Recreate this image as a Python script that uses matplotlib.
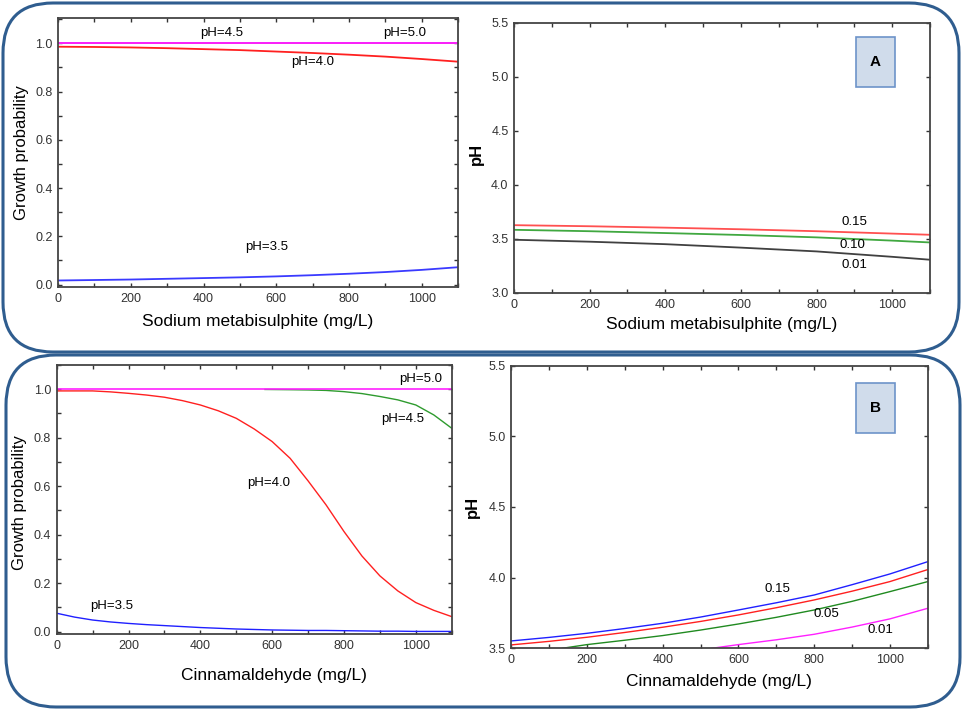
import matplotlib
matplotlib.use('Agg')
import matplotlib.pyplot as plt
from matplotlib.patches import FancyBboxPatch, Rectangle
from matplotlib.ticker import MultipleLocator
from matplotlib.transforms import IdentityTransform

plt.rcParams['font.family'] = ['Liberation Sans', 'DejaVu Sans']

# Colours
frame_blue = '#2F5D8F'
box_fill = '#D0DCEB'
box_edge = '#6D93C9'
tick_grey = '#333333'

# --- A: sodium metabisulphite, growth probability vs concentration
x_smb = [0, 100, 200, 300, 400, 500, 600, 700, 800, 900, 1000, 1100]
p_smb_50 = [1.0] * 12
p_smb_45 = [1.0] * 12
p_smb_40 = [0.986, 0.985, 0.983, 0.980, 0.976, 0.972, 0.966, 0.960, 0.953, 0.945, 0.935, 0.924]
p_smb_35 = [0.017, 0.019, 0.021, 0.024, 0.027, 0.030, 0.034, 0.039, 0.045, 0.052, 0.061, 0.072]

# --- A: pH boundaries for given probability levels
x_smb_c = [0, 200, 400, 600, 800, 1000, 1100]
ph_smb_015 = [3.628, 3.618, 3.605, 3.590, 3.572, 3.550, 3.539]
ph_smb_010 = [3.585, 3.572, 3.555, 3.537, 3.515, 3.485, 3.468]
ph_smb_001 = [3.493, 3.475, 3.452, 3.420, 3.385, 3.335, 3.308]

# --- B: cinnamaldehyde, growth probability vs concentration
x_cin = [0, 50, 100, 150, 200, 250, 300, 350, 400, 450, 500, 550, 600, 650, 700, 750,
         800, 850, 900, 950, 1000, 1050, 1100]
p_cin_50 = [1.0] * 23
p_cin_40 = [0.993, 0.993, 0.993, 0.989, 0.983, 0.976, 0.967, 0.953, 0.935, 0.911, 0.880,
            0.836, 0.784, 0.715, 0.622, 0.523, 0.413, 0.312, 0.230, 0.168, 0.120, 0.088, 0.062]
p_cin_35 = [0.076, 0.060, 0.048, 0.040, 0.034, 0.029, 0.025, 0.021, 0.017, 0.014, 0.011,
            0.009, 0.007, 0.006, 0.005, 0.005, 0.004, 0.003, 0.002, 0.002, 0.001, 0.001, 0.001]
x_cin_45 = [580, 650, 700, 750, 800, 850, 900, 950, 1000, 1050, 1100]
p_cin_45 = [0.999, 0.998, 0.997, 0.995, 0.990, 0.982, 0.970, 0.956, 0.935, 0.894, 0.839]

# --- B: pH boundaries
x_cin_c = [0, 100, 200, 300, 400, 500, 600, 700, 800, 900, 1000, 1100]
ph_cin_015 = [3.552, 3.577, 3.606, 3.640, 3.677, 3.721, 3.771, 3.822, 3.877, 3.950, 4.026, 4.113]
ph_cin_010 = [3.524, 3.549, 3.578, 3.612, 3.649, 3.690, 3.736, 3.787, 3.842, 3.904, 3.972, 4.057]
x_cin_005 = [135, 200, 300, 400, 500, 600, 700, 800, 900, 1000, 1100]
ph_cin_005 = [3.500, 3.526, 3.557, 3.590, 3.629, 3.672, 3.719, 3.771, 3.832, 3.901, 3.972]
x_cin_001 = [530, 600, 700, 800, 900, 1000, 1100]
ph_cin_001 = [3.500, 3.526, 3.560, 3.599, 3.650, 3.708, 3.783]

fig = plt.figure(figsize=(9.64, 7.12), dpi=100)

# rounded frames, in pixels
fig.patches.append(FancyBboxPatch((3, 360), 956, 349, boxstyle='round,pad=0,rounding_size=50',
                                  transform=IdentityTransform(), fill=False,
                                  edgecolor=frame_blue, linewidth=2.2, figure=fig))
fig.patches.append(FancyBboxPatch((6, 5), 954, 352, boxstyle='round,pad=0,rounding_size=50',
                                  transform=IdentityTransform(), fill=False,
                                  edgecolor=frame_blue, linewidth=2.2, figure=fig))

ax1 = fig.add_axes([0.0602, 0.5969, 0.4150, 0.3778])
ax2 = fig.add_axes([0.5332, 0.5885, 0.4315, 0.3792])
ax3 = fig.add_axes([0.0588, 0.1096, 0.4098, 0.3778])
ax4 = fig.add_axes([0.5304, 0.0895, 0.4320, 0.3969])


def style(ax, ymaj, ymin):
    ax.set_xlim(0, 1100)
    ax.xaxis.set_major_locator(MultipleLocator(200))
    ax.xaxis.set_minor_locator(MultipleLocator(100))
    ax.yaxis.set_major_locator(MultipleLocator(ymaj))
    ax.yaxis.set_minor_locator(MultipleLocator(ymin))
    ax.tick_params(which='both', direction='in', top=True, right=True,
                   length=3, width=1, color='#333333')
    ax.tick_params(labelsize=9, labelcolor=tick_grey, pad=4)
    ax.yaxis.set_major_formatter(lambda v, p: f'{v:.1f}')
    for s in ax.spines.values():
        s.set_color('#444444')
        s.set_linewidth(1.3)


lab = dict(fontsize=9.5, ha='center', va='center')

# A - probability
ax1.plot(x_smb, p_smb_45, color='#2E9B2E', lw=1.3)
ax1.plot(x_smb, p_smb_50, color='#FF20FF', lw=1.4)
ax1.plot(x_smb, p_smb_40, color='#FF2020', lw=1.3)
ax1.plot(x_smb, p_smb_35, color='#3A3AFF', lw=1.3)
style(ax1, 0.2, 0.1)
ax1.set_ylim(-0.01, 1.105)
ax1.text(449, 1.041, 'pH=4.5', **lab)
ax1.text(954, 1.041, 'pH=5.0', **lab)
ax1.text(699, 0.921, 'pH=4.0', **lab)
ax1.text(573, 0.157, 'pH=3.5', **lab)
ax1.set_xlabel('Sodium metabisulphite (mg/L)', fontsize=12.5, va='center')
ax1.xaxis.set_label_coords(0.5, -0.13)
ax1.set_ylabel('Growth probability', fontsize=12, va='center')
ax1.yaxis.set_label_coords(-0.0925, 0.5)

# A - pH boundaries
ax2.plot(x_smb_c, ph_smb_015, color='#FF5050', lw=1.3)
ax2.plot(x_smb_c, ph_smb_010, color='#40A840', lw=1.3)
ax2.plot(x_smb_c, ph_smb_001, color='#404040', lw=1.3)
style(ax2, 0.5, 0.5)
ax2.set_ylim(3.0, 5.5)
ax2.text(899, 3.658, '0.15', **lab)
ax2.text(894, 3.446, '0.10', **lab)
ax2.text(899, 3.261, '0.01', **lab)
ax2.set_xlabel('Sodium metabisulphite (mg/L)', fontsize=12.5, va='center')
ax2.xaxis.set_label_coords(0.5, -0.1185)
ax2.set_ylabel('pH', fontsize=12, fontweight='bold', va='center')
ax2.yaxis.set_label_coords(-0.091, 0.515)

# B - probability
ax3.plot(x_cin_45, p_cin_45, color='#2E9B2E', lw=1.0)
ax3.plot(x_cin, p_cin_50, color='#FF20FF', lw=1.2)
ax3.plot(x_cin, p_cin_40, color='#FF2020', lw=1.0)
ax3.plot(x_cin, p_cin_35, color='#2020FF', lw=1.0)
style(ax3, 0.2, 0.1)
ax3.set_ylim(-0.0095, 1.1)
ax3.text(1014, 1.043, 'pH=5.0', **lab)
ax3.text(964, 0.878, 'pH=4.5', **lab)
ax3.text(590, 0.614, 'pH=4.0', **lab)
ax3.text(154, 0.106, 'pH=3.5', **lab)
ax3.set_xlabel('Cinnamaldehyde (mg/L)', fontsize=12.5, va='center')
ax3.xaxis.set_label_coords(0.55, -0.156)
ax3.set_ylabel('Growth probability', fontsize=12, va='center')
ax3.yaxis.set_label_coords(-0.095, 0.49)

# B - pH boundaries
ax4.plot(x_cin_c, ph_cin_015, color='#2020FF', lw=1.0)
ax4.plot(x_cin_c, ph_cin_010, color='#FF2020', lw=1.0)
ax4.plot(x_cin_005, ph_cin_005, color='#208A20', lw=1.0)
ax4.plot(x_cin_001, ph_cin_001, color='#FF20FF', lw=1.0)
style(ax4, 0.5, 0.5)
ax4.set_ylim(3.5, 5.5)
ax4.text(703, 3.92, '0.15', **lab)
ax4.text(833, 3.743, '0.05', **lab)
ax4.text(975, 3.63, '0.01', **lab)
ax4.set_xlabel('Cinnamaldehyde (mg/L)', fontsize=12.5, va='center')
ax4.xaxis.set_label_coords(0.498, -0.118)
ax4.set_ylabel('pH', fontsize=12, fontweight='bold', va='center')
ax4.yaxis.set_label_coords(-0.093, 0.50)

# panel tags
for cx, cy, tag in [(875.5, 712 - 62, 'A'), (875.5, 712 - 407.5, 'B')]:
    fig.patches.append(Rectangle((cx - 19.5, cy - 25), 39, 50, transform=IdentityTransform(),
                                 facecolor=box_fill, edgecolor=box_edge, lw=1.2, figure=fig))
    fig.text(cx / 964, cy / 712, tag, fontsize=11, fontweight='bold', ha='center', va='center')

fig.savefig('out.png', dpi=100, facecolor='white')
